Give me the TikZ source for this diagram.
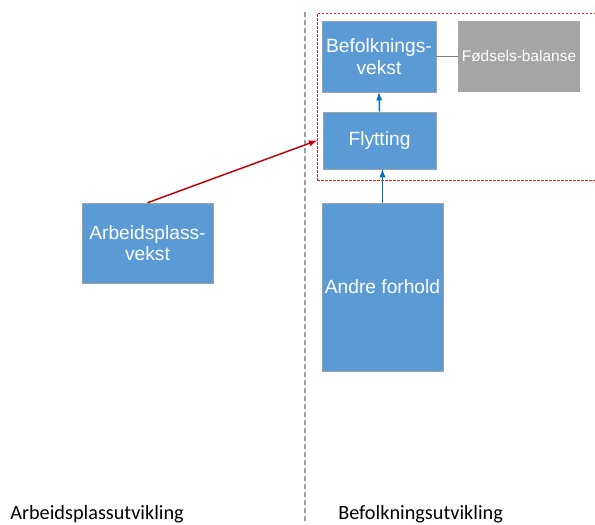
\documentclass[tikz,border=0pt]{standalone}
\usepackage{fontspec}
\setmainfont{Liberation Sans}
\newfontfamily\labelfont{Carlito}
\definecolor{boxblue}{HTML}{5B9BD5}
\definecolor{boxgray}{HTML}{A5A5A5}
\definecolor{edgegray}{HTML}{9DA3AB}
\definecolor{darkred}{HTML}{C00000}
\definecolor{groupred}{HTML}{E02020}
\definecolor{arrowblue}{HTML}{0070C0}
\tikzset{
    bluebox/.style={draw=edgegray, fill=boxblue, text=white, align=center, inner sep=1pt, font=\fontsize{14.4}{16}\selectfont},
    graybox/.style={fill=boxgray, text=white, align=center, inner sep=1pt, font=\fontsize{11.6}{13}\selectfont},
    sidelabel/.style={anchor=base west, inner sep=0pt, font=\labelfont\fontsize{15.2}{17}\selectfont},
    link/.style={->, >=latex, line width=1.1pt}
}
\begin{document}
\begin{tikzpicture}[x=0.75pt, y=-0.75pt]
    \useasboundingbox (0,0) rectangle (595,524);
    \clip (0,0) rectangle (595,524);

    % Divider
    \coordinate (divtop) at (305,12);
    \coordinate (divbot) at (305,524);
    \draw[gray!75, line width=1.1pt, dash pattern=on 4pt off 2pt] (divtop) -- (divbot);

    % Group
    \node[draw=groupred, line width=0.6pt, dash pattern=on 2pt off 1pt, minimum width=213pt, minimum height=125.25pt, inner sep=0pt, anchor=north west] (group) at (317,13) {};

    % Befolkningsvekst
    \node[bluebox, minimum width=85.5pt, minimum height=53.25pt] (bef) at (379,56.5) {Befolknings-\\vekst};

    % Fodselsbalanse
    \node[graybox, minimum width=91.5pt, minimum height=53.25pt] (fod) at (519,56.5) {Fødsels-balanse};

    % Flytting
    \node[bluebox, minimum width=84.75pt, minimum height=42.75pt] (fly) at (379.5,140.5) {Flytting};

    % Arbeidsplassvekst
    \node[bluebox, minimum width=98.25pt, minimum height=60pt] (arb) at (147.5,243) {Arbeidsplass-\\vekst};

    % Andre forhold
    \node[bluebox, minimum width=90.75pt, minimum height=126pt] (andre) at (382.5,287) {Andre forhold};

    % Labels
    \node[sidelabel] (left) at (10,519) {Arbeidsplassutvikling};
    \node[sidelabel] (right) at (338,519) {Befolkningsutvikling};

    % Arrows
    \draw[gray, line width=1.1pt] (bef.east) -- (fod.west);
    \draw[link, arrowblue] (fly.north) -- (bef.south);
    \draw[link, arrowblue] (andre.north) -- (andre.north |- fly.south);
    \draw[link, darkred] (arb.north) -- (group.west |- fly.center);
\end{tikzpicture}
\end{document}
